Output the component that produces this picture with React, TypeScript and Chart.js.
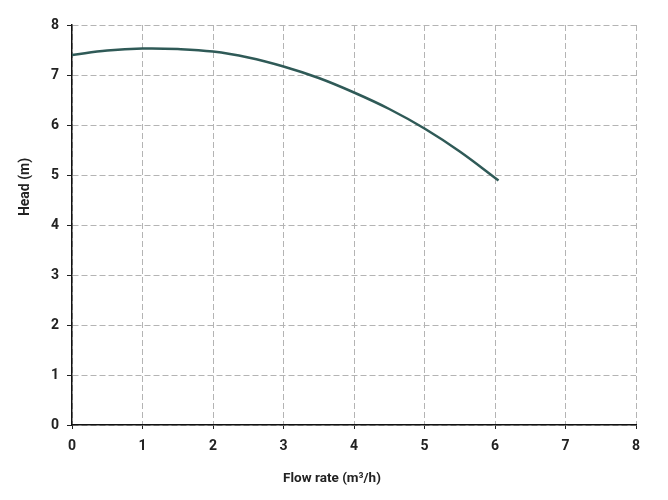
import React, { useEffect, useRef } from "react";
import { Chart, registerables } from "chart.js";

Chart.register(...registerables);

const flowRates = [0, 0.5, 1, 1.5, 2, 2.5, 3, 3.5, 4, 4.5, 5, 5.5, 6.05];
const heads = [7.4, 7.49, 7.53, 7.52, 7.47, 7.35, 7.17, 6.94, 6.65, 6.32, 5.93, 5.47, 4.89];
const xTicks = [0, 1, 2, 3, 4, 5, 6, 7, 8];
const yTicks = [0, 1, 2, 3, 4, 5, 6, 7, 8];
const xTitle = "Flow rate (m³/h)";
const yTitle = "Head (m)";

export default function App() {
  const ref = useRef<HTMLCanvasElement | null>(null);
  useEffect(() => {
    if (!ref.current) return;
    const chart = new Chart(ref.current, {
      type: "line",
      data: {
        datasets: [
          {
            data: flowRates.map((x, i) => ({ x, y: heads[i] })),
            borderColor: "#2f5a57",
            borderWidth: 2.5,
            pointRadius: 0,
            tension: 0.4,
            fill: false,
          },
        ],
      },
      options: {
        animation: false,
        responsive: true,
        maintainAspectRatio: false,
        layout: { padding: { top: 25, right: 32, left: 0, bottom: 0 } },
        plugins: { legend: { display: false }, tooltip: { enabled: false } },
        scales: {
          x: {
            type: "linear",
            min: 0,
            max: 8,
            afterBuildTicks: (s: any) => {
              s.ticks = xTicks.map((v) => ({ value: v }));
            },
            afterFit: (s: any) => {
              s.height = 75;
            },
            border: { display: true, color: "#111", width: 1.5, dash: [6, 3] },
            grid: {
              color: "#b4b4b4",
              lineWidth: 1,
              tickColor: "#222",
              tickLength: 4,
            } as any,
            ticks: {
              color: "#222",
              padding: 9,
              font: { family: "Roboto", size: 14, weight: "bold" },
            },
          },
          y: {
            type: "linear",
            min: 0,
            max: 8,
            afterBuildTicks: (s: any) => {
              s.ticks = yTicks.map((v) => ({ value: v }));
            },
            afterFit: (s: any) => {
              s.width = 72;
            },
            border: { display: true, color: "#111", width: 1.5, dash: [6, 3] },
            grid: {
              color: "#b4b4b4",
              lineWidth: 1,
              tickColor: "#222",
              tickLength: 5,
            } as any,
            ticks: {
              color: "#222",
              padding: 8,
              font: { family: "Roboto", size: 14, weight: "bold" },
            },
          },
        },
      },
      plugins: [
        {
          id: "axisTitles",
          afterDraw: (c: any) => {
            const ctx = c.ctx;
            ctx.save();
            ctx.fillStyle = "#222";
            ctx.textAlign = "center";
            ctx.textBaseline = "middle";
            ctx.font = "bold 13.5px Roboto";
            ctx.fillText(xTitle, c.width / 2 - 2, 479);
            ctx.translate(25, 187);
            ctx.rotate(-Math.PI / 2);
            ctx.font = "bold 14px Roboto";
            ctx.fillText(yTitle, 0, 0);
            ctx.restore();
          },
        },
      ],
    });
    return () => chart.destroy();
  }, []);
  return (
    <div style={{ position: "absolute", left: 0, top: 0, width: 668, height: 500, background: "#fff" }}>
      <canvas ref={ref} />
    </div>
  );
}
